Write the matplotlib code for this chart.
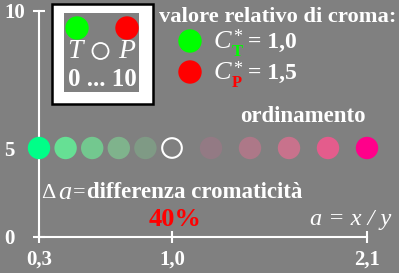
import numpy as np
import matplotlib.pyplot as plt
from matplotlib.patches import Circle, Rectangle

# 数据
a_vals = [0.3, 0.44, 0.58, 0.72, 0.86, 1.0, 1.22, 1.44, 1.66, 1.88, 2.1]
y_vals = [5] * 11
dot_colors = ['#00ff88', '#66e094', '#73c88f', '#7fb38c', '#7f9a85', 'none',
              '#937a84', '#ad7888', '#c8728c', '#e45c8c', '#ff008a']
x_ticks = [0.3, 1.0, 2.1]
x_labels = ['0,3', '1,0', '2,1']
y_ticks = [0, 5, 10]
y_labels = ['0', '5', '10']

bg = '#808080'
plt.rcParams['font.family'] = ['Liberation Serif', 'DejaVu Serif']
plt.rcParams['font.weight'] = 'bold'

fig = plt.figure(figsize=(3.99, 2.73), dpi=100, facecolor=bg)

# 主坐标轴（像素位置换算）
W, H = 399, 273
ax = fig.add_axes([39 / W, (H - 237) / H, (367 - 39) / W, (237 - 11) / H])
ax.set_facecolor('none')

# 轴刻度不等距
ax.set_xscale('function', functions=(lambda v: np.interp(v, [0.3, 1.0, 2.1], [0, 133, 328]),
                                     lambda v: np.interp(v, [0, 133, 328], [0.3, 1.0, 2.1])))
ax.set_yscale('function', functions=(lambda v: np.interp(v, [0, 5, 10], [0, 89, 226]),
                                     lambda v: np.interp(v, [0, 89, 226], [0, 5, 10])))
ax.set_xlim(0.3, 2.1)
ax.set_ylim(0, 10)

for a, y, c in zip(a_vals, y_vals, dot_colors):
    if c == 'none':
        ax.scatter(a, y, s=200, facecolors='none', edgecolors='white', linewidths=1.5,
                   clip_on=False, zorder=3)
    else:
        ax.scatter(a, y, s=260, color=c, edgecolors='none', clip_on=False, zorder=3)

for s in ['top', 'right']:
    ax.spines[s].set_visible(False)
for s in ['left', 'bottom']:
    ax.spines[s].set_color('white')
    ax.spines[s].set_linewidth(1.5)

ax.set_xticks(x_ticks, labels=x_labels)
ax.set_yticks(y_ticks, labels=y_labels)
ax.minorticks_off()
ax.tick_params(axis='x', direction='inout', length=8, width=1.5, color='white', pad=5,
               labelsize=15, labelcolor='white')
ax.tick_params(axis='y', direction='inout', length=8, width=1.5, color='white', pad=21,
               labelsize=15, labelcolor='white')
for lbl in ax.get_yticklabels():
    lbl.set_horizontalalignment('left')

# 叠加层，像素坐标
ov = fig.add_axes([0, 0, 1, 1])
ov.set_xlim(0, W)
ov.set_ylim(H, 0)
ov.axis('off')
ov.patch.set_alpha(0)

# 左上角说明框
ov.add_patch(Rectangle((52, 4), 101, 100, facecolor='white', edgecolor='black', lw=1.8))
ov.add_patch(Rectangle((64, 13), 75, 79, facecolor=bg, edgecolor='none'))
ov.add_patch(Circle((77, 28), 11, color='#00ff00'))
ov.add_patch(Circle((127, 28), 11, color='#ff0000'))
ov.add_patch(Circle((100.5, 51), 8, facecolor='none', edgecolor='white', lw=1.3))
ov.text(75, 51, 'T', fontstyle='italic', fontweight='normal', fontsize=20, color='white',
        ha='center', va='center')
ov.text(127, 51, 'P', fontstyle='italic', fontweight='normal', fontsize=20, color='white',
        ha='center', va='center')
ov.text(102, 80, '0 ... 10', fontsize=18, color='white', ha='center', va='center')

# 右上角图例
ov.text(159, 17, 'valore relativo di croma:', fontsize=16.2, color='white',
        ha='left', va='center')
ov.add_patch(Circle((190, 41), 11, color='#00ff00'))
ov.add_patch(Circle((190, 72), 11, color='#ff0000'))
for yy, sub, sc, val in [(41, 'T', '#00ff00', '= 1,0'), (72, 'P', '#ff0000', '= 1,5')]:
    ov.text(214, yy + 1, 'C', fontstyle='italic', fontweight='normal', fontsize=19,
            color='white', ha='left', va='center')
    ov.text(233, yy - 3, '*', fontweight='normal', fontsize=13, color='white',
            ha='left', va='center')
    ov.text(232, yy + 11, sub, fontsize=12, color=sc, ha='left', va='center')
    ov.text(248, yy + 1, val, fontsize=17, color='white', ha='left', va='center')

ov.text(303, 116, 'ordinamento', fontsize=16.5, color='white', ha='center', va='center')

# 底部文字
ov.text(41, 193, 'Δ', fontweight='normal', fontsize=16, color='white', ha='left', va='center')
ov.text(58, 193, 'a', fontstyle='italic', fontweight='normal', fontsize=19, color='white',
        ha='left', va='center')
ov.text(73, 193, '=', fontweight='normal', fontsize=16, color='white', ha='left', va='center')
ov.text(87, 193, 'differenza cromaticità', fontsize=16.5, color='white',
        ha='left', va='center')
ov.text(175, 219, '40%', fontsize=19, color='#ff0000', ha='center', va='center')
ov.text(391, 220, 'a = x / y', fontstyle='italic', fontweight='normal', fontsize=17.5,
        color='white', ha='right', va='center')

fig.savefig('out.png', dpi=100, facecolor=bg)
